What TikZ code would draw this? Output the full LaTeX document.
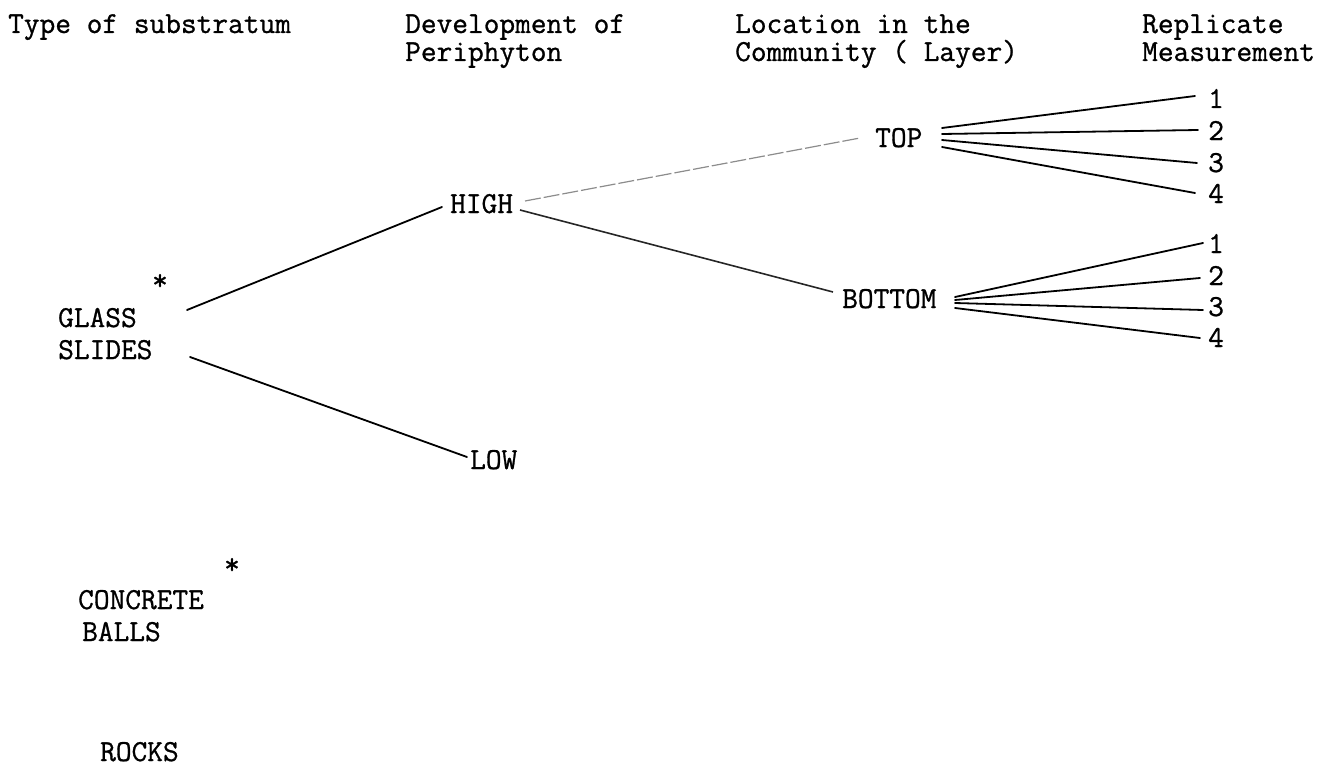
\documentclass[tikz,border=0pt]{standalone}
\usepackage{fontspec}
% slightly heavier typewriter face
\newfontfamily\typewriter{Latin Modern Mono}[FakeBold=0.9]
\begin{document}
\begin{tikzpicture}[x=1pt,y=-1pt,
  lbl/.style={anchor=base west,inner sep=0pt,font=\typewriter\fontsize{30.5}{33}\selectfont},
  starmark/.style={anchor=center,inner sep=0pt,font=\typewriter\fontsize{30.5}{33}\selectfont},
  branch/.style={line width=1.8pt,black,line cap=round},
  faintbranch/.style={line width=1.2pt,black!45,dash pattern=on 16pt off 3pt},
  midbranch/.style={line width=1.6pt,black!85}]
\useasboundingbox (0,0) rectangle (1333,773);

% column headings
\node[lbl] (h1)  at (8,33)    {Type of substratum};
\node[lbl] (h2a) at (405,33)  {Development of};
\node[lbl] (h2b) at (405,61)  {Periphyton};
\node[lbl] (h3a) at (735,33)  {Location in the};
\node[lbl] (h3b) at (735,61)  {Community ( Layer)};
\node[lbl] (h4a) at (1142,33) {Replicate};
\node[lbl] (h4b) at (1142,61) {Measurement};

% substrata
\node[lbl] (glass)    at (58,327)  {GLASS};
\node[lbl] (slides)   at (58,359)  {SLIDES};
\node[starmark] (s1)  at (160,282) {*};
\node[starmark] (s2)  at (232,566) {*};
\node[lbl] (concrete) at (78,609)  {CONCRETE};
\node[lbl] (balls)    at (82,641)  {BALLS};
\node[lbl] (rocks)    at (100,761) {ROCKS};

% development and layer
\node[lbl] (high)   at (450,213) {HIGH};
\node[lbl] (low)    at (470,469) {LOW};
\node[lbl] (top)    at (875,147) {TOP};
\node[lbl] (bottom) at (842,308) {BOTTOM};

% replicates
\node[lbl] (t1) at (1208,108) {1};
\node[lbl] (t2) at (1208,140) {2};
\node[lbl] (t3) at (1208,172) {3};
\node[lbl] (t4) at (1208,203) {4};
\node[lbl] (b1) at (1208,253) {1};
\node[lbl] (b2) at (1208,285) {2};
\node[lbl] (b3) at (1208,316) {3};
\node[lbl] (b4) at (1208,347) {4};

% substratum -> development
\draw[branch] ([shift={(129,-17)}]glass.base west) -- ([shift={(-8,-6)}]high.base west);
\draw[branch] ([shift={(132,-2)}]slides.base west) -- ([shift={(-3,-12)}]low.base west);

% development -> layer
\draw[faintbranch] ([shift={(75,-12)}]high.base west) -- ([shift={(-15,-9)}]top.base west);
\draw[midbranch] ([shift={(70,-3)}]high.base west) -- ([shift={(-9,-16)}]bottom.base west);

% layer -> replicates
\draw[branch] ([shift={(67,-19)}]top.base west) -- ([shift={(-13,-12)}]t1.base west);
\draw[branch] ([shift={(67,-13)}]top.base west) -- ([shift={(-10,-10)}]t2.base west);
\draw[branch] ([shift={(67,-7)}]top.base west)  -- ([shift={(-11,-9)}]t3.base west);
\draw[branch] ([shift={(67,0)}]top.base west)   -- ([shift={(-13,-10)}]t4.base west);
\draw[branch] ([shift={(113,-11)}]bottom.base west) -- ([shift={(-5,-10)}]b1.base west);
\draw[branch] ([shift={(113,-8)}]bottom.base west)  -- ([shift={(-8,-7)}]b2.base west);
\draw[branch] ([shift={(113,-5)}]bottom.base west)  -- ([shift={(-5,-6)}]b3.base west);
\draw[branch] ([shift={(113,0)}]bottom.base west)   -- ([shift={(-8,-9)}]b4.base west);
\end{tikzpicture}
\end{document}
